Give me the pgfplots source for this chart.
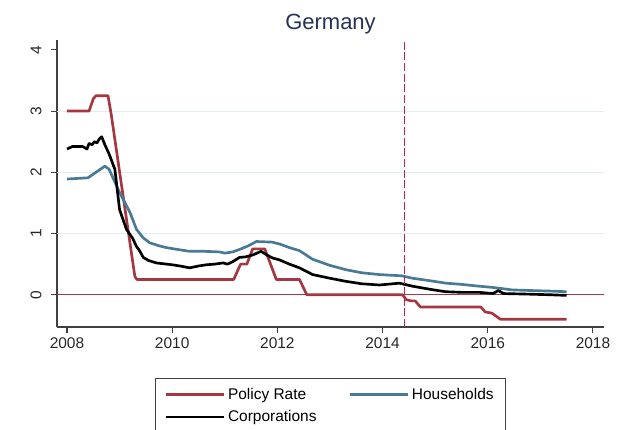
\documentclass[border=0pt]{standalone}
\usepackage{fontspec}
\setmainfont{Liberation Sans}
\usepackage{pgfplots}
\pgfplotsset{compat=1.18}
\definecolor{polred}{RGB}{165,55,65}
\definecolor{hhblue}{RGB}{72,122,150}
\definecolor{titlecol}{RGB}{38,50,84}
\definecolor{vcrimson}{RGB}{200,30,80}
\definecolor{zerocol}{RGB}{160,60,70}
\definecolor{gridcol}{RGB}{226,236,241}
\begin{document}
\begin{tikzpicture}
\useasboundingbox (-42.75pt,-76.5pt) rectangle (426pt,245.25pt);
\begin{axis}[
  scale only axis, width=410.25pt, height=215.25pt,
  xmin=2007.81, xmax=2018.21, ymin=-0.526, ymax=4.16,
  axis x line*=bottom, axis y line*=left,
  axis line style={-, black!75, line width=0.8pt},
  xtick={2008,2010,2012,2014,2016,2018}, ytick={0,1,2,3,4},
  tick align=outside, major tick length=4.5pt,
  tick style={black!75, line width=0.8pt},
  /pgf/number format/assume math mode=true,
  /pgf/number format/set thousands separator={},
  ticklabel style={font=\fontsize{11.6}{13}\selectfont, text=black!85},
  yticklabel style={rotate=90, anchor=south, inner ysep=7pt},
  title={Germany},
  title style={at={(0.5,1)}, anchor=base, yshift=2pt, font=\fontsize{16.5}{18}\selectfont, text=titlecol},
  legend style={at={(0.5,0)}, anchor=north, yshift=-38.25pt, draw=black!75, line width=0.8pt,
    font=\fontsize{11.6}{14}\selectfont, inner xsep=7pt, inner ysep=5pt, row sep=3pt,
    /tikz/every even column/.append style={column sep=22pt}},
  legend columns=2, legend cell align=left,
  legend image code/.code={\draw[#1] (0pt,0pt) -- (43.5pt,0pt);},
]
\draw[gridcol, line width=0.6pt] (axis cs:2007.81,1) -- (axis cs:2018.21,1);
\draw[gridcol, line width=0.6pt] (axis cs:2007.81,2) -- (axis cs:2018.21,2);
\draw[gridcol, line width=0.6pt] (axis cs:2007.81,3) -- (axis cs:2018.21,3);
\draw[zerocol, line width=0.7pt] (axis cs:2007.81,0) -- (axis cs:2018.21,0);

\addplot[polred, line width=2pt, line join=round] coordinates {
(2008.0,3.0) (2008.42,3.0) (2008.5,3.2) (2008.55,3.25) (2008.78,3.25) (2008.84,2.95)
(2009.29,0.3) (2009.33,0.25) (2011.17,0.25) (2011.3,0.5) (2011.42,0.5) (2011.53,0.75)
(2011.76,0.75) (2011.98,0.25) (2012.42,0.25) (2012.56,0) (2014.38,0) (2014.45,-0.08)
(2014.55,-0.1) (2014.62,-0.1) (2014.72,-0.2) (2015.87,-0.2) (2015.95,-0.28) (2016.08,-0.3)
(2016.24,-0.4) (2017.5,-0.4)
};
\addlegendentry{Policy Rate}

\addplot[hhblue, line width=2pt, line join=round] coordinates {
(2008.0,1.89) (2008.2,1.9) (2008.4,1.91) (2008.55,2.0) (2008.72,2.1) (2008.8,2.05)
(2009.0,1.67) (2009.2,1.34) (2009.32,1.07) (2009.45,0.93) (2009.57,0.85) (2009.75,0.8)
(2009.89,0.77) (2010.1,0.74) (2010.33,0.71) (2010.6,0.71) (2010.9,0.70) (2011.0,0.68)
(2011.15,0.70) (2011.28,0.74) (2011.45,0.80) (2011.6,0.87) (2011.9,0.86) (2012.04,0.83)
(2012.23,0.77) (2012.42,0.72) (2012.67,0.58) (2013.0,0.48) (2013.3,0.41) (2013.6,0.36)
(2013.94,0.33) (2014.36,0.31) (2014.57,0.27) (2014.9,0.23) (2015.2,0.19) (2015.5,0.17)
(2015.84,0.14) (2016.1,0.12) (2016.46,0.08) (2016.8,0.07) (2017.2,0.06) (2017.5,0.05)
};
\addlegendentry{Households}

\addplot[black, line width=2pt, line join=round] coordinates {
(2008.0,2.38) (2008.1,2.42) (2008.3,2.42) (2008.38,2.38) (2008.42,2.47) (2008.48,2.45)
(2008.52,2.5) (2008.57,2.48) (2008.62,2.55) (2008.66,2.58) (2008.72,2.45) (2008.8,2.3)
(2008.91,2.05) (2009.0,1.39) (2009.13,1.07) (2009.25,0.92) (2009.32,0.79) (2009.38,0.72)
(2009.45,0.61) (2009.55,0.56) (2009.7,0.52) (2010.0,0.49) (2010.15,0.47) (2010.33,0.44)
(2010.5,0.47) (2010.65,0.49) (2010.8,0.5) (2010.97,0.52) (2011.05,0.50) (2011.15,0.54)
(2011.28,0.61) (2011.4,0.62) (2011.53,0.65) (2011.69,0.71) (2011.8,0.65) (2011.91,0.6)
(2012.04,0.57) (2012.23,0.5) (2012.42,0.44) (2012.67,0.33) (2013.0,0.27) (2013.3,0.22)
(2013.6,0.18) (2013.94,0.16) (2014.2,0.18) (2014.32,0.19) (2014.57,0.14) (2014.9,0.09)
(2015.2,0.05) (2015.5,0.04) (2015.84,0.04) (2016.1,0.02) (2016.2,0.07) (2016.3,0.02)
(2016.8,0.01) (2017.2,0.0) (2017.5,-0.01)
};
\addlegendentry{Corporations}

\draw[vcrimson, line width=1.1pt, dash pattern=on 6pt off 2pt] (axis cs:2014.42,-0.526) -- (axis cs:2014.42,4.16);
\end{axis}
\end{tikzpicture}
\end{document}
